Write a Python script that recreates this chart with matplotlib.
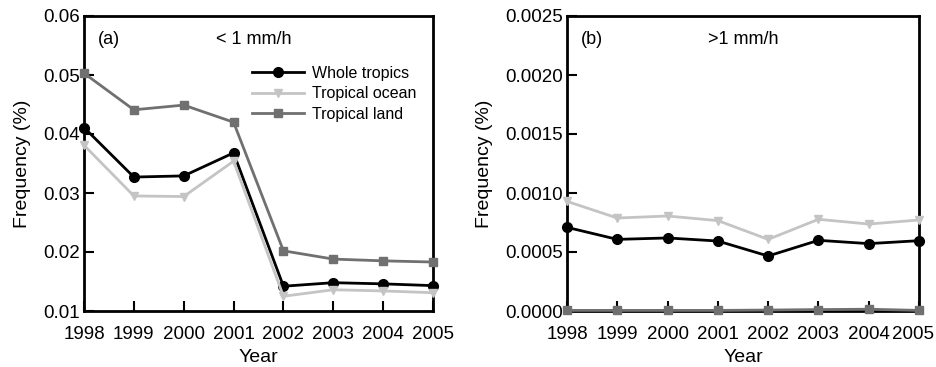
import matplotlib
matplotlib.use("Agg")
import matplotlib.pyplot as plt
import matplotlib.transforms as mtransforms

years = [1998, 1999, 2000, 2001, 2002, 2003, 2004, 2005]

# Frequency (%) for rain rates < 1 mm/h
light_whole = [0.0411, 0.0327, 0.0329, 0.0368, 0.0142, 0.0148, 0.0146, 0.0143]
light_ocean = [0.0381, 0.0295, 0.0294, 0.0354, 0.0125, 0.0136, 0.0134, 0.0131]
light_land = [0.0503, 0.0441, 0.0449, 0.0420, 0.0202, 0.0188, 0.0185, 0.0183]

# Frequency (%) for rain rates > 1 mm/h
heavy_whole = [0.000709, 0.000607, 0.000619, 0.000593, 0.000466, 0.000599, 0.000571, 0.000596]
heavy_ocean = [0.000929, 0.000788, 0.000805, 0.000766, 0.000607, 0.000777, 0.000737, 0.000771]
heavy_land = [0.000005, 0.000005, 0.000005, 0.000005, 0.000008, 0.000012, 0.000015, 0.000005]

series_names = ["Whole tropics", "Tropical ocean", "Tropical land"]
yticks_a = [0.01, 0.02, 0.03, 0.04, 0.05, 0.06]
yticks_b = [0.0, 0.0005, 0.0010, 0.0015, 0.0020, 0.0025]

plt.rcParams["font.family"] = ["Liberation Sans", "DejaVu Sans"]
plt.rcParams["font.size"] = 14

fig = plt.figure(figsize=(9.37, 3.67), dpi=100)
W, H = 937, 367
ax_a = fig.add_axes([84 / W, 1 - 311 / H, (433 - 84) / W, (311 - 16) / H])
ax_b = fig.add_axes([567 / W, 1 - 311 / H, (919 - 567) / W, (311 - 16) / H])

styles = [
    dict(color="black", marker="o", markersize=7),
    dict(color="#c4c4c4", marker="v", markersize=6),
    dict(color="#707070", marker="s", markersize=6),
]

def draw(ax, data, yticks, fmt, label, title, title_x):
    for vals, name, st in zip(data, series_names, styles):
        ax.plot(years, vals, lw=2, label=name, clip_on=False, zorder=3, **st)
    ax.set_xlim(years[0], years[-1])
    ax.set_ylim(yticks[0], yticks[-1])
    ax.set_xticks(years)
    ax.set_yticks(yticks)
    ax.set_yticklabels([fmt.format(v) for v in yticks])
    ax.tick_params(direction="in", length=7, width=1.5, labelsize=13.5)
    ax.tick_params(axis="x", pad=11)
    ax.tick_params(axis="y", pad=3)
    for sp in ax.spines.values():
        sp.set_linewidth(2)
    ax.set_xlabel("Year", fontsize=14, labelpad=4)
    ax.set_ylabel("Frequency (%)", fontsize=14, labelpad=9)
    ax.text(0.04, 0.95, label, transform=ax.transAxes, fontsize=13, va="top", ha="left")
    ax.text(title_x, 0.95, title, transform=ax.transAxes, fontsize=13, va="top", ha="center")

draw(ax_a, [light_whole, light_ocean, light_land], yticks_a, "{:.2f}", "(a)", "< 1 mm/h", 0.485)
draw(ax_b, [heavy_whole, heavy_ocean, heavy_land], yticks_b, "{:.4f}", "(b)", ">1 mm/h", 0.5)

# keep the last year label of the right panel inside the figure
last = ax_b.get_xticklabels()[-1]
last.set_transform(last.get_transform() + mtransforms.ScaledTranslation(-6 / 100, 0, fig.dpi_scale_trans))

ax_a.legend(loc="upper right", bbox_to_anchor=(0.985, 0.87), frameon=False, fontsize=11.5,
            handlelength=3.3, handletextpad=0.5, labelspacing=0.35, borderaxespad=0.3)

fig.savefig("out.png", dpi=100)
